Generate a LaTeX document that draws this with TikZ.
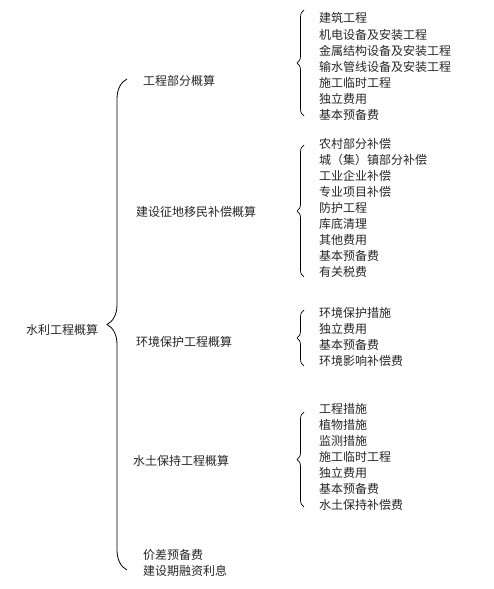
\documentclass[tikz,border=0pt]{standalone}
\usepackage{fontspec}
\setmainfont{Noto Sans CJK SC}
\usetikzlibrary{decorations.pathreplacing}
\begin{document}
\begin{tikzpicture}[x=1pt,y=-1pt,
  lbl/.style={anchor=west,inner sep=0pt,font=\fontsize{12pt}{14pt}\selectfont,text=black!85},
  bigbrace/.style={draw=black,line width=0.8pt,decorate,decoration={brace,amplitude=20pt}},
  smallbrace/.style={draw=black,line width=0.7pt,decorate,decoration={brace,amplitude=7pt}}]
\useasboundingbox (0,0) rectangle (493,589);
% root
\node[lbl] (root) at (26,330) {水利工程概算};
% level 1
\node[lbl] (a) at (143,81) {工程部分概算};
\node[lbl] (b) at (136,212) {建设征地移民补偿概算};
\node[lbl] (c) at (136,342) {环境保护工程概算};
\node[lbl] (d) at (133,461) {水土保持工程概算};
\node[lbl] (e1) at (143,555) {价差预备费};
\node[lbl] (e2) at (143,571) {建设期融资利息};
% big brace
\coordinate (bbot) at (127,570);
\coordinate (btop) at (127,79);
\draw[bigbrace] (bbot) -- (btop);
% brace 1
\coordinate (b1bot) at (304,116);
\coordinate (b1top) at (304,10);
\draw[smallbrace] (b1bot) -- (b1top);
\node[lbl] (a1) at (319,18) {建筑工程};
\node[lbl] (a2) at (319,34.5) {机电设备及安装工程};
\node[lbl] (a3) at (319,51) {金属结构设备及安装工程};
\node[lbl] (a4) at (319,67) {输水管线设备及安装工程};
\node[lbl] (a5) at (319,82.5) {施工临时工程};
\node[lbl] (a6) at (319,99) {独立费用};
\node[lbl] (a7) at (319,115) {基本预备费};
% brace 2
\coordinate (b2bot) at (304,277);
\coordinate (b2top) at (304,145);
\draw[smallbrace] (b2bot) -- (b2top);
\node[lbl] (bb1) at (319,144) {农村部分补偿};
\node[lbl] (bb2) at (319,159.5) {城（集）镇部分补偿};
\node[lbl] (bb3) at (319,176) {工业企业补偿};
\node[lbl] (bb4) at (319,192) {专业项目补偿};
\node[lbl] (bb5) at (319,208) {防护工程};
\node[lbl] (bb6) at (319,223.5) {库底清理};
\node[lbl] (bb7) at (319,239.5) {其他费用};
\node[lbl] (bb8) at (319,256) {基本预备费};
\node[lbl] (bb9) at (319,272) {有关税费};
% brace 3
\coordinate (b3bot) at (304,366);
\coordinate (b3top) at (304,310);
\draw[smallbrace] (b3bot) -- (b3top);
\node[lbl] (c1) at (319,313) {环境保护措施};
\node[lbl] (c2) at (319,328.5) {独立费用};
\node[lbl] (c3) at (319,344.5) {基本预备费};
\node[lbl] (c4) at (319,360.5) {环境影响补偿费};
% brace 4
\coordinate (b4bot) at (304,507);
\coordinate (b4top) at (304,412);
\draw[smallbrace] (b4bot) -- (b4top);
\node[lbl] (d1) at (319,408.5) {工程措施};
\node[lbl] (d2) at (319,425) {植物措施};
\node[lbl] (d3) at (319,441) {监测措施};
\node[lbl] (d4) at (319,457) {施工临时工程};
\node[lbl] (d5) at (319,472.5) {独立费用};
\node[lbl] (d6) at (319,489) {基本预备费};
\node[lbl] (d7) at (319,504.5) {水土保持补偿费};
\end{tikzpicture}
\end{document}
